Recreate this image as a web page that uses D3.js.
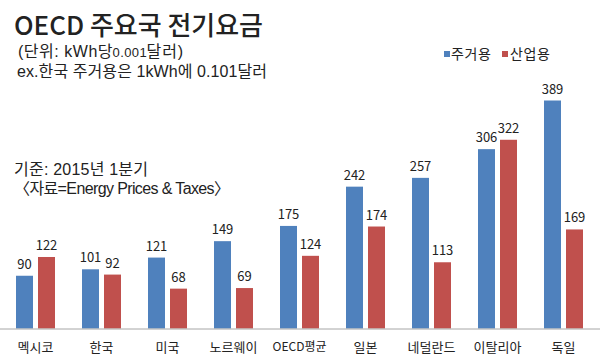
<!DOCTYPE html>
<html><head><meta charset="utf-8">
<script src="https://cdn.jsdelivr.net/npm/d3@7"></script>
<style>body{margin:0;background:#fff}svg{display:block}text{font-family:"Noto Sans CJK KR","Noto Sans",sans-serif;fill:#222}
.t{font-family:"Liberation Sans","Noto Sans CJK KR",sans-serif}</style>
</head><body><svg id="c" width="600" height="361"></svg>
<script>
const categories = ["멕시코","한국","미국","노르웨이","OECD평균","일본","네덜란드","이탈리아","독일"];
const residential = [90,101,121,149,175,242,257,306,389];
const industrial = [122,92,68,69,124,174,113,322,169];
const seriesNames = ["주거용","산업용"];
const colors = ["#4F81BD","#C0504D"];

const svg = d3.select("#c");
const base = 328.5;
const x = d3.scaleBand().domain(categories).range([2.5,596.5]);
const y = d3.scaleLinear().domain([0,389]).range([base,100.5]);
const barW = 17, gap = 5;

categories.forEach((c,i)=>{
  const cx = x(c)+x.bandwidth()/2;
  [residential[i],industrial[i]].forEach((v,s)=>{
    const bx = s===0 ? cx-gap/2-barW : cx+gap/2;
    svg.append("rect").attr("x",bx).attr("y",y(v)).attr("width",barW).attr("height",base-y(v)).attr("fill",colors[s]);
    svg.append("text").attr("x",bx+barW/2).attr("y",y(v)-7).attr("text-anchor","middle").attr("font-size",13).text(v);
  });
});
svg.append("line").attr("x1",0).attr("x2",600).attr("y1",base+0.5).attr("y2",base+0.5).attr("stroke","#a6a6a6");
const xa = svg.append("g").attr("transform",`translate(0,${base})`).call(d3.axisBottom(x).tickSize(0).tickPadding(14));
xa.select(".domain").remove();
xa.selectAll("text").attr("font-size",13).style("font-family",'"Noto Sans CJK KR",sans-serif').attr("fill","#222");
xa.selectAll("text").filter(d=>d==="OECD평균").attr("font-size",12);

svg.append("text").attr("x",14).attr("y",35).attr("font-size",26).attr("font-weight",500)
  .attr("textLength",249).attr("lengthAdjust","spacingAndGlyphs").text("OECD 주요국 전기요금");
const parts = [["(단위: kWh당",16],["0.001",13],["달러)",16]];
const els = parts.map(([t,fs])=>svg.append("text").attr("class","t").attr("y",57).attr("font-size",fs).text(t));
const widths = els.map(e=>e.node().getComputedTextLength());
const k = 165/d3.sum(widths);
let sx = 18;
els.forEach((e,i)=>{ e.attr("x",sx).attr("textLength",widths[i]*k).attr("lengthAdjust","spacing"); sx += widths[i]*k; });
svg.append("text").attr("class","t").attr("x",17).attr("y",77).attr("font-size",16)
  .attr("textLength",250).attr("lengthAdjust","spacing").text("ex.한국 주거용은 1kWh에 0.101달러");
svg.append("text").attr("class","t").attr("x",14).attr("y",175).attr("font-size",16)
  .attr("textLength",134).attr("lengthAdjust","spacing").text("기준: 2015년 1분기");
svg.append("text").attr("class","t").attr("x",14).attr("y",194).attr("font-size",16)
  .attr("textLength",216).attr("lengthAdjust","spacing").text("〈자료=Energy Prices & Taxes〉");

const leg = [[444,451],[502,510]];
seriesNames.forEach((n,i)=>{
  svg.append("rect").attr("x",leg[i][0]).attr("y",51).attr("width",6).attr("height",6).attr("fill",colors[i]);
  svg.append("text").attr("class","t").attr("x",leg[i][1]).attr("y",58.5).attr("font-size",14)
    .attr("textLength",40).attr("lengthAdjust","spacing").text(n);
});
</script></body></html>
